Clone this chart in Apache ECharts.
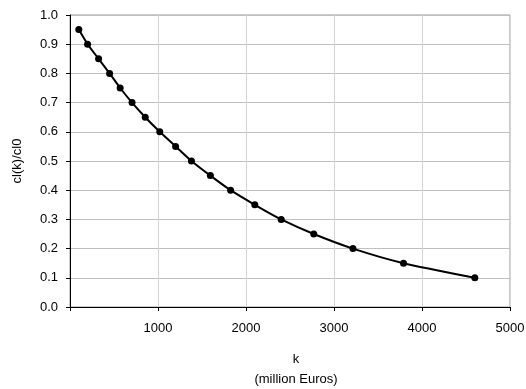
<!DOCTYPE html>
<html><head><meta charset="utf-8">
<script src="https://cdn.jsdelivr.net/npm/echarts@6/dist/echarts.min.js"></script>
<style>html,body{margin:0;padding:0;background:#fff}#c{width:526px;height:389px}</style>
</head><body><div id="c"></div>
<script>
const kValues = [100, 200, 325, 450, 570, 705, 855, 1020, 1200, 1380, 1595, 1825, 2100, 2400, 2770, 3215, 3790, 4600];
const ratioValues = [0.95, 0.90, 0.85, 0.80, 0.75, 0.70, 0.65, 0.60, 0.55, 0.50, 0.45, 0.40, 0.35, 0.30, 0.25, 0.20, 0.15, 0.10];
const xName = 'k\n(million Euros)';
const yName = 'cl(k)/cl0';

const chart = echarts.init(document.getElementById('c'), null, {renderer: 'canvas'});
const font = 'Liberation Sans, Arial, sans-serif';
chart.setOption({
  animation: false,
  grid: {left: 70, top: 15, right: 16, bottom: 82, show: true, borderColor: '#999', borderWidth: 1,
    outerBoundsMode: 'none', containLabel: false},
  xAxis: {
    type: 'value', min: 0, max: 5000, interval: 1000,
    name: xName, nameLocation: 'middle', nameGap: 42,
    nameTextStyle: {fontFamily: font, fontSize: 13, color: '#000', lineHeight: 20, padding: [0, 0, 0, 12]},
    axisLine: {show: true, lineStyle: {color: '#000', width: 1}},
    axisTick: {show: true, length: 4, lineStyle: {color: '#000'}},
    axisLabel: {fontFamily: font, fontSize: 13, color: '#000', margin: 15,
      formatter: v => v === 0 ? '' : String(v)},
    splitLine: {show: true, lineStyle: {color: '#d4d4d4', width: 1}}
  },
  yAxis: {
    type: 'value', min: 0, max: 1, interval: 0.1,
    name: yName, nameLocation: 'middle', nameGap: 46,
    nameTextStyle: {fontFamily: font, fontSize: 13, color: '#000'},
    axisLine: {show: true, lineStyle: {color: '#000', width: 1}},
    axisTick: {show: true, length: 4, lineStyle: {color: '#000'}},
    axisLabel: {fontFamily: font, fontSize: 13, color: '#000', margin: 12,
      formatter: v => v.toFixed(1)},
    splitLine: {show: true, lineStyle: {color: '#bfbfbf', width: 1}}
  },
  series: [{
    type: 'line',
    data: kValues.map((k, i) => [k, ratioValues[i]]),
    smooth: 0.2,
    symbol: 'circle', symbolSize: 7,
    itemStyle: {color: '#000'},
    lineStyle: {color: '#000', width: 2}
  }]
});
</script></body></html>
